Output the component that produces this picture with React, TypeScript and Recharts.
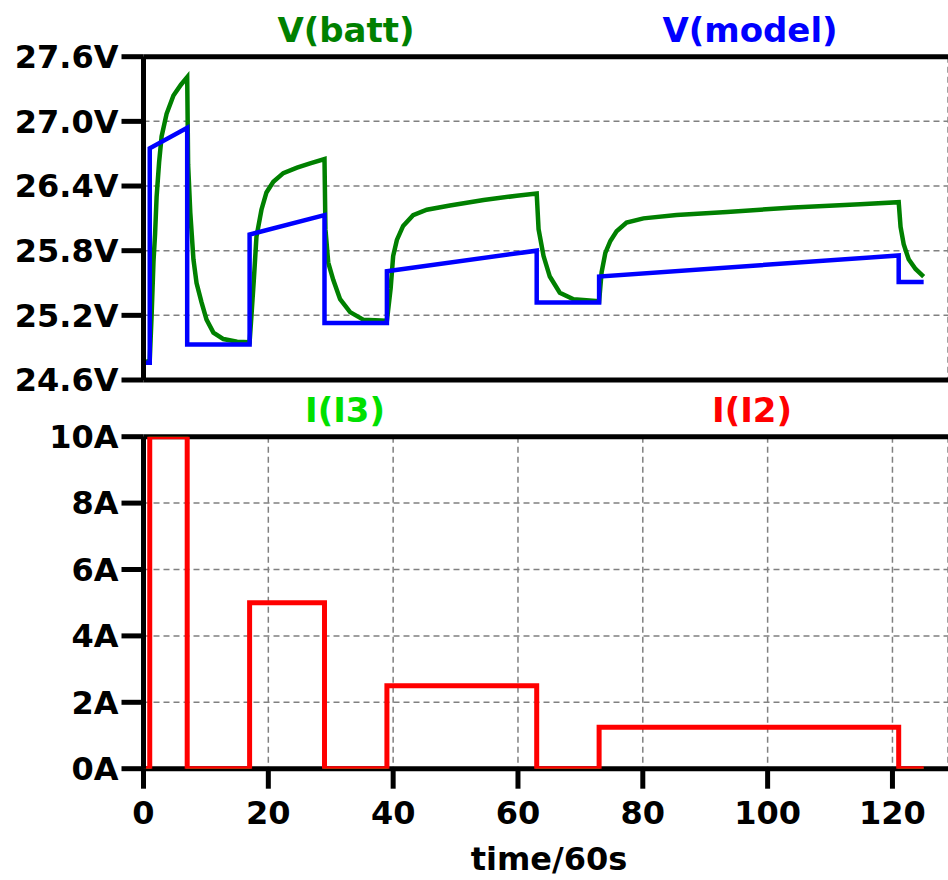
import React from 'react';
import { LineChart, Line, XAxis, YAxis, CartesianGrid, ReferenceLine } from 'recharts';

// time in minutes (time/60s)
const xTicks = [0, 20, 40, 60, 80, 100, 120];
const vTicks = [24.6, 25.2, 25.8, 26.4, 27.0, 27.6];
const iTicks = [0, 2, 4, 6, 8, 10];

const vBattT = [0, 1.0, 1.3, 1.6, 1.85, 2.1, 2.5, 2.9, 3.7, 4.8, 6.0, 7.0, 7.15, 7.5, 8.0, 8.5, 9.3, 10.1, 11.2, 12.8, 15.0, 17.0,
  17.3, 17.7, 18.1, 18.9, 19.7, 20.8, 22.4, 24.6, 26.7, 29.0, 29.15, 29.6, 30.4, 31.5, 33.1, 35.2, 39.0,
  39.3, 39.6, 40.0, 40.6, 41.6, 43.2, 45.4, 49.1, 54.5, 59.8, 63.0, 63.3, 64.1, 65.1, 66.7, 68.9, 73.0,
  73.4, 74.0, 74.8, 75.8, 77.4, 80.1, 85.4, 93.5, 104.1, 114.8, 121.0, 121.3, 121.8, 122.6, 123.7, 125.0];
const vBattV = [24.76, 24.78, 25.2, 25.7, 25.95, 26.3, 26.62, 26.86, 27.07, 27.24, 27.34, 27.41, 26.6, 26.15, 25.72, 25.5, 25.32, 25.16, 25.04, 24.98, 24.955, 24.95,
  25.2, 25.55, 25.93, 26.18, 26.34, 26.44, 26.52, 26.57, 26.61, 26.65, 26.0, 25.69, 25.53, 25.35, 25.23, 25.16, 25.15,
  25.3, 25.45, 25.75, 25.9, 26.03, 26.13, 26.18, 26.22, 26.27, 26.31, 26.33, 26.0, 25.75, 25.56, 25.41, 25.35, 25.33,
  25.6, 25.78, 25.89, 25.98, 26.06, 26.1, 26.13, 26.16, 26.2, 26.23, 26.25, 26.02, 25.86, 25.72, 25.63, 25.56];

const vModelT = [0, 1, 1, 7, 7, 17, 17, 29, 29, 39, 39, 63, 63, 73, 73, 121, 121, 125];
const vModelV = [24.76, 24.76, 26.75, 26.94, 24.93, 24.93, 25.95, 26.13, 25.13, 25.13, 25.61, 25.8, 25.32, 25.32, 25.56, 25.755, 25.51, 25.51];

const iT = [0, 1, 7, 17, 29, 39, 63, 73, 121, 125];
const iI2 = [0, 10, 0, 5, 0, 2.5, 0, 1.25, 0, 0];
const iI3 = [0, 10, 0, 5, 0, 2.5, 0, 1.25, 0, 0];

const vBatt = vBattT.map((t, k) => ({ t, v: vBattV[k] }));
const vModel = vModelT.map((t, k) => ({ t, v: vModelV[k] }));
const i2 = iT.map((t, k) => ({ t, v: iI2[k] }));
const i3 = iT.map((t, k) => ({ t, v: iI3[k] }));

const FONT = 'DejaVu Sans';
const tickStyle = { fill: '#000', fontSize: 32, fontWeight: 'bold', fontFamily: FONT };
const axisStyle = { stroke: '#000', strokeWidth: 5 };
const X_DOMAIN = [0, 128.9];

const Title = ({ text, color, x, y }) => (
  <div style={{ position: 'absolute', left: x, top: y, transform: 'translate(-50%, -50%)', color, fontFamily: FONT,
    fontWeight: 'bold', fontSize: 34, lineHeight: 1, whiteSpace: 'nowrap' }}>{text}</div>
);

export default function App() {
  return (
    <div style={{ position: 'absolute', left: 0, top: 0, width: 948, height: 880, background: '#fff', overflow: 'hidden' }}>
      <div style={{ position: 'absolute', left: 0, top: 0 }}>
        <LineChart width={948} height={420} margin={{ top: 56.7, right: 0, bottom: 0, left: 0 }}>
          <CartesianGrid stroke="#808080" strokeWidth={1.5} strokeDasharray="6 4" />
          <XAxis dataKey="t" type="number" domain={X_DOMAIN} ticks={xTicks} allowDataOverflow height={40}
            tick={false} tickLine={false} axisLine={axisStyle} />
          <YAxis type="number" domain={[24.6, 27.6]} ticks={vTicks} allowDataOverflow width={143.5}
            tickSize={22} tickMargin={3} tickLine={axisStyle} axisLine={axisStyle} tick={tickStyle}
            tickFormatter={(v) => v.toFixed(1) + 'V'} interval={0} />
          <ReferenceLine y={27.6} stroke="#000" strokeWidth={5} />
          <Line data={vBatt} dataKey="v" stroke="#008000" strokeWidth={4.5} dot={false} isAnimationActive={false} type="linear" />
          <Line data={vModel} dataKey="v" stroke="#0000ff" strokeWidth={4.5} dot={false} isAnimationActive={false} type="linear" />
        </LineChart>
      </div>
      <div style={{ position: 'absolute', left: 0, top: 380 }}>
        <LineChart width={948} height={500} margin={{ top: 56.7, right: 0, bottom: 0, left: 0 }}>
          <CartesianGrid stroke="#808080" strokeWidth={1.5} strokeDasharray="6 4" />
          <XAxis dataKey="t" type="number" domain={X_DOMAIN} ticks={xTicks} allowDataOverflow height={111.3}
            tickSize={20} tickMargin={13} tickLine={axisStyle} axisLine={false} tick={tickStyle} interval={0} />
          <YAxis type="number" domain={[0, 10]} ticks={iTicks} allowDataOverflow width={143.5}
            tickSize={22} tickMargin={3} tickLine={axisStyle} axisLine={axisStyle} tick={tickStyle}
            tickFormatter={(v) => v + 'A'} interval={0} />
          <ReferenceLine y={10} stroke="#000" strokeWidth={5} />
          <ReferenceLine y={0} stroke="#000" strokeWidth={5} />
          <Line data={i3} dataKey="v" stroke="#00e000" strokeWidth={2.5} dot={false} isAnimationActive={false} type="stepAfter" />
          <Line data={i2} dataKey="v" stroke="#ff0000" strokeWidth={5} dot={false} isAnimationActive={false} type="stepAfter" />
        </LineChart>
      </div>
      <Title text="V(batt)" color="#008000" x={346} y={30} />
      <Title text="V(model)" color="#0000ff" x={750} y={30} />
      <Title text="I(I3)" color="#00e000" x={345} y={410} />
      <Title text="I(I2)" color="#ff0000" x={752} y={410} />
      <div style={{ position: 'absolute', left: 549, top: 859, transform: 'translate(-50%, -50%)', fontFamily: FONT,
        fontWeight: 'bold', fontSize: 32, lineHeight: 1, color: '#000', whiteSpace: 'nowrap' }}>time/60s</div>
    </div>
  );
}
